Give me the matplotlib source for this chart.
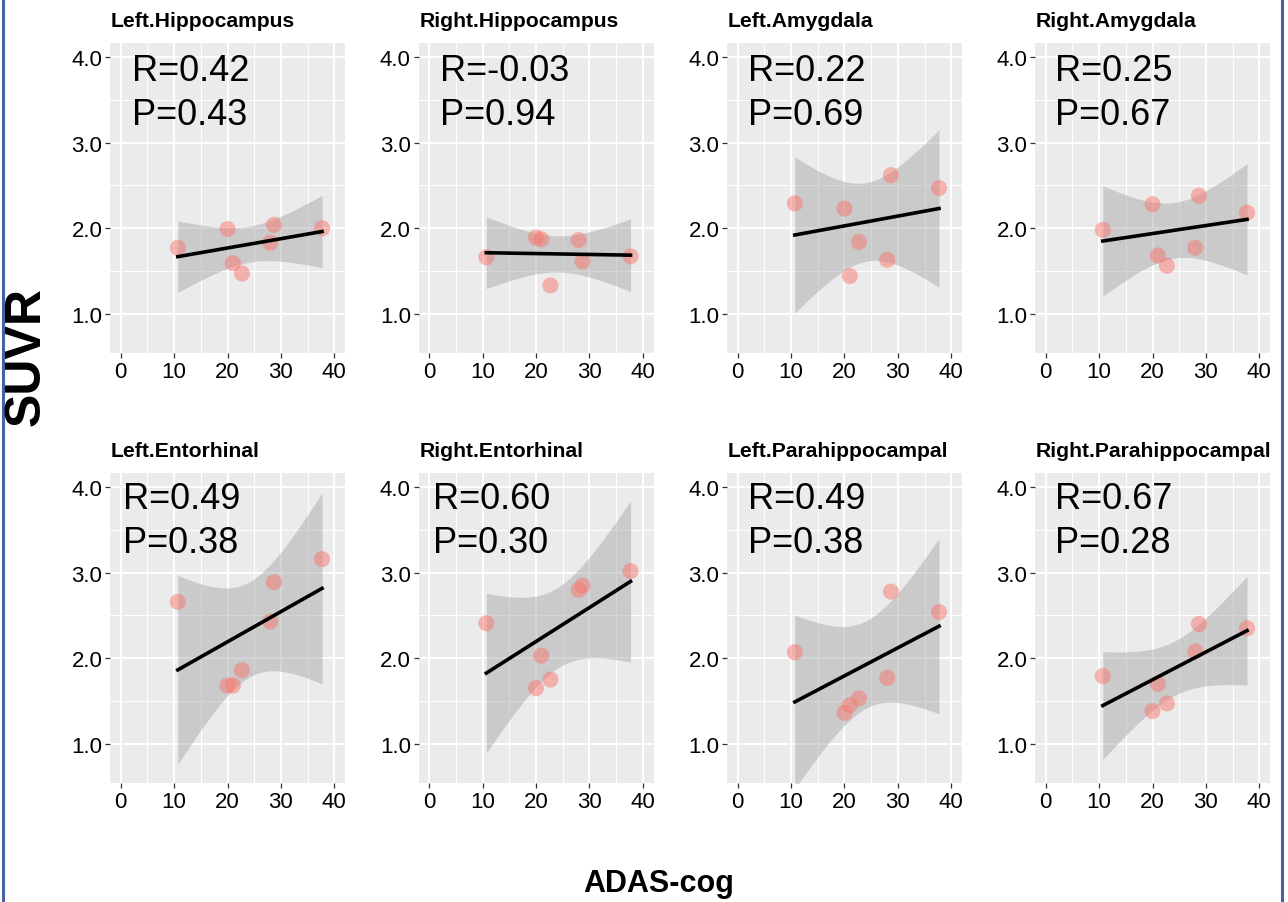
import numpy as np
import matplotlib
matplotlib.use("Agg")
import matplotlib.pyplot as plt
from matplotlib.lines import Line2D

# ADAS-cog scores (same subjects in every panel)
adas = np.array([10.7, 20.0, 21.0, 22.7, 28.0, 28.7, 37.7])

regions = ["Left.Hippocampus", "Right.Hippocampus", "Left.Amygdala", "Right.Amygdala",
           "Left.Entorhinal", "Right.Entorhinal", "Left.Parahippocampal", "Right.Parahippocampal"]

suvr_lhip = [1.77, 1.99, 1.59, 1.47, 1.83, 2.04, 2.00]
suvr_rhip = [1.66, 1.89, 1.87, 1.33, 1.86, 1.61, 1.67]
suvr_lamy = [2.29, 2.23, 1.44, 1.84, 1.63, 2.62, 2.47]
suvr_ramy = [1.98, 2.28, 1.68, 1.56, 1.77, 2.38, 2.18]
suvr_lent = [2.66, 1.68, 1.68, 1.86, 2.43, 2.89, 3.16]
suvr_rent = [2.41, 1.65, 2.03, 1.75, 2.80, 2.85, 3.02]
suvr_lpar = [2.07, 1.36, 1.45, 1.53, 1.77, 2.78, 2.54]
suvr_rpar = [1.79, 1.38, 1.70, 1.47, 2.08, 2.40, 2.35]
suvr = [suvr_lhip, suvr_rhip, suvr_lamy, suvr_ramy, suvr_lent, suvr_rent, suvr_lpar, suvr_rpar]

r_txt = ["0.42", "-0.03", "0.22", "0.25", "0.49", "0.60", "0.49", "0.67"]
p_txt = ["0.43", "0.94", "0.69", "0.67", "0.38", "0.30", "0.38", "0.28"]
txt_x = [2.1, 2.1, 1.9, 1.7, 0.4, 0.8, 1.9, 1.7]

fam = ["Liberation Sans", "DejaVu Sans"]

W, H = 1288, 903
fig = plt.figure(figsize=(W / 100, H / 100), dpi=100)

col_left = [110, 418.5, 727, 1035]
row_top = [44.3, 474.3]
pw, ph = 235, 310

t975 = 2.570582  # t quantile, df = 5

for i, (name, yv) in enumerate(zip(regions, suvr)):
    r, c = divmod(i, 4)
    x0 = col_left[c] / W
    y0 = 1 - (row_top[r] + ph) / H
    ax = fig.add_axes([x0, y0, pw / W, ph / H])
    ax.set_facecolor("#EBEBEB")
    for s in ax.spines.values():
        s.set_visible(False)

    ax.set_xlim(-2, 42)
    ax.set_ylim(0.535, 4.165)
    ax.set_xticks([0, 10, 20, 30, 40])
    ax.set_xticks([5, 15, 25, 35], minor=True)
    ax.set_yticks([1, 2, 3, 4])
    ax.set_yticks([1.5, 2.5, 3.5], minor=True)
    ax.set_yticklabels(["1.0", "2.0", "3.0", "4.0"])
    ax.grid(True, which="major", color="white", lw=1.4)
    ax.grid(True, which="minor", color="white", lw=0.7)
    ax.set_axisbelow(True)
    ax.tick_params(which="major", length=3.5, width=0.9, color="#333333", pad=2,
                   labelsize=16, labelcolor="black")
    ax.tick_params(which="minor", length=0)
    for lab in ax.get_xticklabels() + ax.get_yticklabels():
        lab.set_family(fam)

    # linear fit with 95% confidence band
    y = np.array(yv)
    b1, b0 = np.polyfit(adas, y, 1)
    n = len(adas)
    res = y - (b0 + b1 * adas)
    s_err = np.sqrt(np.sum(res ** 2) / (n - 2))
    sxx = np.sum((adas - adas.mean()) ** 2)
    xs = np.linspace(adas.min(), adas.max(), 80)
    fit = b0 + b1 * xs
    se = s_err * np.sqrt(1 / n + (xs - adas.mean()) ** 2 / sxx)
    ax.fill_between(xs, fit - t975 * se, fit + t975 * se, color="#999999", alpha=0.4, lw=0, zorder=2)
    ax.scatter(adas, y, s=135, color="#F8766D", alpha=0.5, edgecolors="none", zorder=3)
    ax.plot(xs, fit, color="black", lw=2.6, zorder=4)

    ax.text(txt_x[i], 3.74 if r == 0 else 3.76, "R=" + r_txt[i], fontsize=26, family=fam,
            va="baseline", ha="left", zorder=5)
    ax.text(txt_x[i], 3.22 if r == 0 else 3.24, "P=" + p_txt[i], fontsize=26, family=fam,
            va="baseline", ha="left", zorder=5)

    ax.annotate(name, xy=(0, 1), xycoords="axes fraction", xytext=(1, 17),
                textcoords="offset pixels", fontsize=15.2, fontweight="bold",
                family=fam, va="baseline", ha="left", annotation_clip=False)

fig.text(27 / W, 1 - 357 / H, "SUVR", rotation=90, fontsize=36, fontweight="bold",
         family=fam, ha="center", va="center")
fig.text(659 / W, 1 - 892 / H, "ADAS-cog", fontsize=22, fontweight="bold",
         family=fam, ha="center", va="baseline")

# blue frame at left and right edges
fig.add_artist(Line2D([2.5 / W, 2.5 / W], [0, 1], color="#4463A3", lw=2.2, transform=fig.transFigure))
fig.add_artist(Line2D([1281.5 / W, 1281.5 / W], [0, 1], color="#4463A3", lw=2.2, transform=fig.transFigure))

fig.savefig("out.png", dpi=100)
